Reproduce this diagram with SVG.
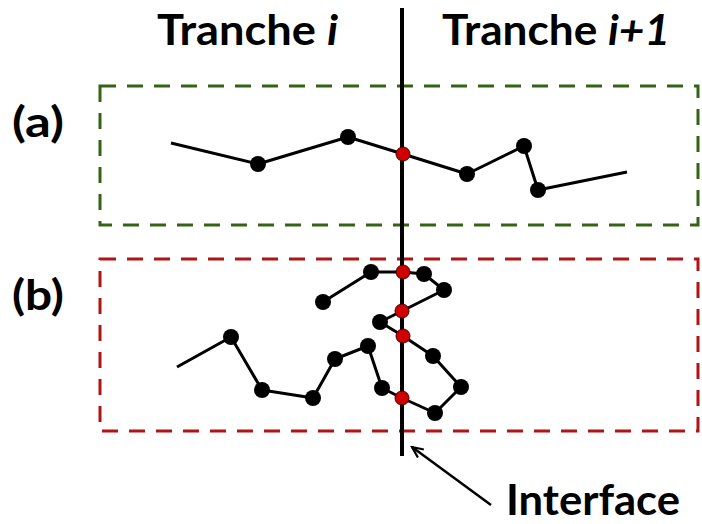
<svg xmlns="http://www.w3.org/2000/svg" width="702" height="524" viewBox="0 0 702 524">
<style>
.t{font-family:Lato,"Liberation Sans",sans-serif;font-weight:bold;fill:#000}
.chain{fill:none;stroke:#000;stroke-width:3;stroke-linejoin:round}
.n{fill:#000}
.r{fill:#d00000;stroke:#400;stroke-width:1}
.box{fill:none;stroke-width:3;stroke-dasharray:16,11}
</style>
<defs>
<marker id="ah" markerWidth="14" markerHeight="12" refX="12" refY="6" orient="auto" markerUnits="userSpaceOnUse">
<path d="M1,1 L12,6 L1,11" fill="none" stroke="#000" stroke-width="2.2"/>
</marker>
</defs>
<rect width="702" height="524" fill="#fff"/>
<g id="labels">
<text class="t" x="157" y="45" font-size="42" textLength="181" lengthAdjust="spacingAndGlyphs">Tranche <tspan font-style="italic">i</tspan></text>
<text class="t" x="442" y="45" font-size="42" textLength="228" lengthAdjust="spacingAndGlyphs">Tranche <tspan font-style="italic">i+1</tspan></text>
<text class="t" x="12" y="137" font-size="42" textLength="52" lengthAdjust="spacingAndGlyphs">(a)</text>
<text class="t" x="12" y="310" font-size="42" textLength="52" lengthAdjust="spacingAndGlyphs">(b)</text>
</g>
<g id="box-a"><rect class="box" x="100" y="86" width="598" height="139" stroke="#356316"/></g>
<g id="box-b"><rect class="box" x="100" y="259" width="598" height="172" stroke="#b01414"/></g>
<g id="interface-line"><line x1="402" y1="8" x2="402" y2="456" stroke="#000" stroke-width="4"/></g>
<g id="chain-a">
<polyline class="chain" points="171,143 258,164 348,137 403,154 467,174 524,146 538,190 627,172"/>
<circle class="n" cx="258" cy="164" r="8"/>
<circle class="n" cx="348" cy="137" r="8"/>
<circle class="n" cx="467" cy="174" r="8"/>
<circle class="n" cx="524" cy="146" r="8"/>
<circle class="n" cx="538" cy="190" r="8"/>
<circle class="r" cx="403" cy="154" r="7"/>
</g>
<g id="chain-b">
<polyline class="chain" points="177,367 231,337 262,390 313,398 335,359 368,346 382,388 402,398 435,413 461,387 433,356 403,336 380,322 402,311 444,290 424,274 403,272 371,272 323,302"/>
<circle class="n" cx="231" cy="337" r="8"/>
<circle class="n" cx="262" cy="390" r="8"/>
<circle class="n" cx="313" cy="398" r="8"/>
<circle class="n" cx="335" cy="359" r="8"/>
<circle class="n" cx="368" cy="346" r="8"/>
<circle class="n" cx="382" cy="388" r="8"/>
<circle class="n" cx="435" cy="413" r="8"/>
<circle class="n" cx="461" cy="387" r="8"/>
<circle class="n" cx="433" cy="356" r="8"/>
<circle class="n" cx="380" cy="322" r="8"/>
<circle class="n" cx="444" cy="290" r="8"/>
<circle class="n" cx="424" cy="274" r="8"/>
<circle class="n" cx="371" cy="272" r="8"/>
<circle class="n" cx="323" cy="302" r="8"/>
<circle class="r" cx="402" cy="398" r="7"/>
<circle class="r" cx="403" cy="336" r="7"/>
<circle class="r" cx="402" cy="311" r="7"/>
<circle class="r" cx="403" cy="272" r="7"/>
</g>
<g id="connectors">
<line x1="491" y1="505" x2="412" y2="447" stroke="#000" stroke-width="2.5" marker-end="url(#ah)"/>
</g>
<g id="interface-label">
<text class="t" x="506" y="515" font-size="42" textLength="174" lengthAdjust="spacingAndGlyphs">Interface</text>
</g>
</svg>
